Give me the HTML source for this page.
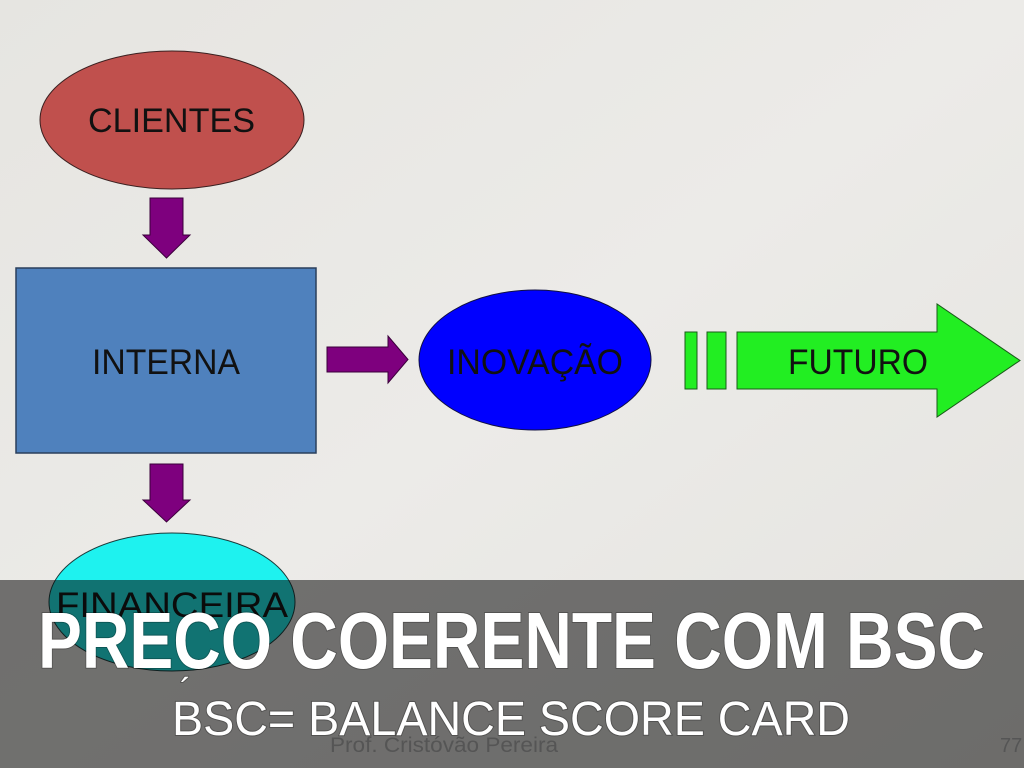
<!DOCTYPE html>
<html><head><meta charset="utf-8"><style>
html,body{margin:0;padding:0;width:1024px;height:768px;overflow:hidden;background:#e8e7e3;}
svg{display:block}
</style></head><body>
<svg width="1024" height="768" viewBox="0 0 1024 768" xmlns="http://www.w3.org/2000/svg">
<defs><linearGradient id="bg" x1="0" y1="0" x2="1" y2="1"><stop offset="0" stop-color="#e6e5e1"/><stop offset="0.5" stop-color="#ecebe8"/><stop offset="1" stop-color="#e4e3df"/></linearGradient></defs>
<rect width="1024" height="768" fill="url(#bg)"/>
<g font-family="Liberation Sans Narrow, Liberation Sans, sans-serif" fill="#111" lengthAdjust="spacingAndGlyphs">
<ellipse cx="172" cy="120" rx="132" ry="69" fill="#c0504d" stroke="#3a2020" stroke-width="1"/>
<text x="88" y="132" font-size="34" textLength="167" lengthAdjust="spacingAndGlyphs">CLIENTES</text>
<polygon points="150,198 183,198 183,235 190,235 166.5,258 143,235 150,235" fill="#7e007e" stroke="#3a003a" stroke-width="1"/>
<rect x="16" y="268" width="300" height="185" fill="#4f81bd" stroke="#2a3f5c" stroke-width="1.5"/>
<text x="92" y="374" font-size="35" textLength="148" lengthAdjust="spacingAndGlyphs">INTERNA</text>
<polygon points="327,347 388,347 388,336 408,359.5 388,383 388,372 327,372" fill="#7e007e" stroke="#3a003a" stroke-width="1"/>
<ellipse cx="535" cy="360" rx="116" ry="70" fill="#0000ff" stroke="#101040" stroke-width="1"/>
<text x="447" y="374" font-size="35" textLength="176" lengthAdjust="spacingAndGlyphs">INOVAÇÃO</text>
<rect x="685" y="332" width="12" height="57" fill="#22ee22" stroke="#1a5a1a" stroke-width="1"/>
<rect x="707" y="332" width="19" height="57" fill="#22ee22" stroke="#1a5a1a" stroke-width="1"/>
<polygon points="737,332 937,332 937,304 1020,360.5 937,417 937,389 737,389" fill="#22ee22" stroke="#1a5a1a" stroke-width="1"/>
<text x="788" y="374" font-size="35" textLength="140" lengthAdjust="spacingAndGlyphs">FUTURO</text>
<polygon points="150,464 183,464 183,500 190,500 166.5,522 143,500 150,500" fill="#7e007e" stroke="#3a003a" stroke-width="1"/>
<ellipse cx="172" cy="602" rx="123" ry="69" fill="#1ef2ef" stroke="#1a3a3a" stroke-width="1"/>
<text x="56" y="617" font-size="35" textLength="232" lengthAdjust="spacingAndGlyphs">FINANCEIRA</text>
</g>
<rect x="0" y="580" width="1024" height="188" fill="rgba(8,8,8,0.54)"/>
<text x="330" y="752" font-family="Liberation Sans Narrow, Liberation Sans, sans-serif" font-size="21" fill="#555" textLength="228" lengthAdjust="spacingAndGlyphs">Prof. Cristóvão Pereira</text>
<text x="1000" y="752" font-family="Liberation Sans, sans-serif" font-size="20" fill="#555">77</text>
<g fill="#fff" font-family="Liberation Sans Narrow, Liberation Sans, sans-serif" style="paint-order:stroke" stroke="rgba(0,0,0,0.25)" stroke-width="2">
<text x="38" y="668" font-size="80" font-weight="bold" textLength="947" lengthAdjust="spacingAndGlyphs">PRECO COERENTE COM BSC</text>
<text x="172" y="735" font-size="48" textLength="678" lengthAdjust="spacingAndGlyphs">BSC= BALANCE SCORE CARD</text>
<text x="180" y="702" font-size="34">´</text>
</g>
</svg>
</body></html>
